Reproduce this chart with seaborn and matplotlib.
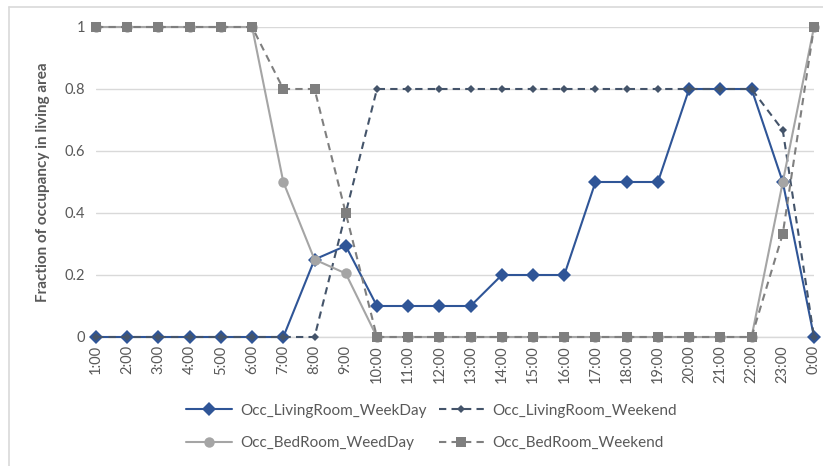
import matplotlib
matplotlib.use("Agg")
import matplotlib.pyplot as plt
from matplotlib.lines import Line2D
import seaborn as sns
import pandas as pd

hours = ["1:00", "2:00", "3:00", "4:00", "5:00", "6:00", "7:00", "8:00", "9:00",
         "10:00", "11:00", "12:00", "13:00", "14:00", "15:00", "16:00", "17:00",
         "18:00", "19:00", "20:00", "21:00", "22:00", "23:00", "0:00"]

living_weekday = [0, 0, 0, 0, 0, 0, 0, 0.25, 0.294, 0.1, 0.1, 0.1, 0.1, 0.2, 0.2, 0.2,
                  0.5, 0.5, 0.5, 0.8, 0.8, 0.8, 0.5, 0]
living_weekend = [0, 0, 0, 0, 0, 0, 0, 0, 0.4, 0.8, 0.8, 0.8, 0.8, 0.8, 0.8, 0.8,
                  0.8, 0.8, 0.8, 0.8, 0.8, 0.8, 0.667, 0]
bedroom_weekday = [1, 1, 1, 1, 1, 1, 0.5, 0.25, 0.205, 0, 0, 0, 0, 0, 0, 0,
                   0, 0, 0, 0, 0, 0, 0.5, 1]
bedroom_weekend = [1, 1, 1, 1, 1, 1, 0.8, 0.8, 0.4, 0, 0, 0, 0, 0, 0, 0,
                   0, 0, 0, 0, 0, 0, 0.333, 1]

series_names = ["Occ_LivingRoom_WeekDay", "Occ_LivingRoom_Weekend",
                "Occ_BedRoom_WeedDay", "Occ_BedRoom_Weekend"]

sns.set_theme(style="white")
plt.rcParams["font.family"] = ["Lato", "DejaVu Sans"]

text_col = "#595959"
pos = list(range(len(hours)))

fig = plt.figure(figsize=(8.23, 4.66), dpi=100)
ax = fig.add_axes([96 / 823, 1 - 337 / 466, (814 - 96) / 823, (337 - 27) / 466])

# later series are drawn on top of earlier ones
styles = [
    dict(values=living_weekday, color="#2F5597", marker="D", ms=7, ls="-", z=1),
    dict(values=living_weekend, color="#44546A", marker="D", ms=4.5, ls="--", z=2),
    dict(values=bedroom_weekday, color="#A5A5A5", marker="o", ms=7.5, ls="-", z=3),
    dict(values=bedroom_weekend, color="#7F7F7F", marker="s", ms=6.5, ls="--", z=4),
]

handles = {}
for name, st in zip(series_names, styles):
    df = pd.DataFrame({"pos": pos, "val": st["values"]})
    sns.lineplot(data=df, x="pos", y="val", ax=ax, color=st["color"],
                 marker=st["marker"], markersize=st["ms"], markeredgewidth=0,
                 linewidth=1.5, linestyle=st["ls"], zorder=st["z"] + 2, clip_on=False)
    line = ax.lines[-1]
    if st["ls"] == "--":
        line.set_dashes((3.5, 2.5))
    h = Line2D([0], [0], color=st["color"], marker=st["marker"], markersize=st["ms"],
               markeredgewidth=0, linewidth=1.5, linestyle=st["ls"])
    if st["ls"] == "--":
        h.set_dashes((3.5, 2.5))
    handles[name] = h

ax.set_xlim(0, 23)
ax.set_ylim(0, 1)
ax.set_yticks([0, 0.2, 0.4, 0.6, 0.8, 1])
ax.set_yticklabels(["0", "0.2", "0.4", "0.6", "0.8", "1"])
ax.set_xticks(pos)
ax.set_xticklabels(hours, rotation=90)
ax.tick_params(axis="both", colors=text_col, labelsize=10.5, length=0, pad=8)
ax.tick_params(axis="x", pad=6)
ax.grid(axis="y", color="#D9D9D9", linewidth=1)
ax.set_axisbelow(True)
for s in ["top", "right", "left"]:
    ax.spines[s].set_visible(False)
ax.spines["bottom"].set_color("#D9D9D9")
ax.spines["bottom"].set_linewidth(1)
ax.set_xlabel("")
ax.set_ylabel("Fraction of occupancy in living area", fontsize=11,
              fontweight="bold", color=text_col, labelpad=10)

# legend fills column-wise: living weekday / bedroom weekday, then weekend pair
order = [series_names[0], series_names[2], series_names[1], series_names[3]]
fig.legend([handles[n] for n in order], order, loc="center", ncol=2,
           bbox_to_anchor=(0.5 + 20 / 823, 1 - 427 / 466), frameon=False,
           fontsize=11, labelcolor=text_col, handlelength=3.0,
           columnspacing=0.8, handletextpad=0.5, labelspacing=1.2)

# chart-area border
fig.add_artist(Line2D([8.5 / 823, 8.5 / 823], [0, 1 - 7 / 466],
                      transform=fig.transFigure, color="#D9D9D9", linewidth=1.2))
fig.add_artist(Line2D([8.5 / 823, 1], [1 - 7 / 466, 1 - 7 / 466],
                      transform=fig.transFigure, color="#D9D9D9", linewidth=1.2))

fig.savefig("out.png", dpi=100)
